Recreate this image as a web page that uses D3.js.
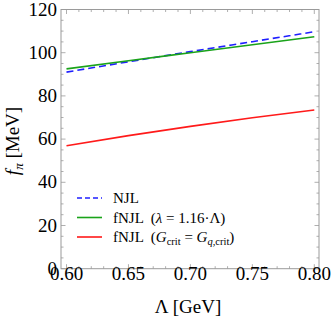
<!DOCTYPE html>
<html>
<head>
<meta charset="utf-8">
<script src="https://cdn.jsdelivr.net/npm/d3@7"></script>
<style>
  body { margin: 0; background: #fff; }
</style>
</head>
<body>
<div id="chart"></div>
<script>
// Data
const lambdaGeV = [0.60, 0.65, 0.70, 0.75, 0.80];
const njl = [91.0, 95.8, 100.5, 105.1, 109.7];
const fnjlLambda = [92.5, 96.3, 100.0, 103.7, 107.4];
const fnjlGcrit = [56.9, 61.6, 65.9, 69.9, 73.5];
const xTicks = [0.60, 0.65, 0.70, 0.75, 0.80];
const yTicks = [0, 20, 40, 60, 80, 100, 120];

const W = 332, H = 319;
const frame = {left: 61, right: 319, top: 9.5, bottom: 268.7};
const serif = "'Liberation Serif', 'DejaVu Serif', 'Times New Roman', serif";

const svg = d3.select("#chart").append("svg")
    .attr("width", W).attr("height", H)
    .attr("font-family", serif);

const x = d3.scaleLinear().domain([0.6, 0.8]).range([66.5, 314.3]);
const y = d3.scaleLinear().domain([0, 120]).range([frame.bottom, frame.top]);

// Frame
svg.append("rect")
    .attr("x", frame.left).attr("y", frame.top)
    .attr("width", frame.right - frame.left)
    .attr("height", frame.bottom - frame.top)
    .attr("fill", "none").attr("stroke", "#9a9a9a").attr("stroke-width", 1);

// Ticks (inward on all sides)
const tickColor = "#9a9a9a";
const xMinor = d3.range(0, 21).map(i => 0.6 + i * 0.01);
const yMinor = d3.range(0, 25).map(i => i * 5);
const g = svg.append("g").attr("stroke", tickColor).attr("stroke-width", 0.8);
xMinor.forEach((v, i) => {
  const len = i % 5 === 0 ? 4.5 : 2.5;
  g.append("line").attr("x1", x(v)).attr("x2", x(v))
    .attr("y1", frame.bottom).attr("y2", frame.bottom - len);
  g.append("line").attr("x1", x(v)).attr("x2", x(v))
    .attr("y1", frame.top).attr("y2", frame.top + len);
});
yMinor.forEach((v, i) => {
  const len = i % 4 === 0 ? 4.5 : 2.5;
  g.append("line").attr("y1", y(v)).attr("y2", y(v))
    .attr("x1", frame.left).attr("x2", frame.left + len);
  g.append("line").attr("y1", y(v)).attr("y2", y(v))
    .attr("x1", frame.right).attr("x2", frame.right - len);
});

// Tick labels
svg.append("g").selectAll("text").data(xTicks).join("text")
    .attr("x", d => x(d)).attr("y", 280)
    .attr("text-anchor", "middle").attr("font-size", 19)
    .text(d => d.toFixed(2));
svg.append("g").selectAll("text").data(yTicks).join("text")
    .attr("x", 57).attr("y", d => y(d) + 6)
    .attr("text-anchor", "end").attr("font-size", 19)
    .text(d => d);

// Axis titles
svg.append("text").attr("x", 188).attr("y", 313)
    .attr("text-anchor", "middle").attr("font-size", 19)
    .text("Λ [GeV]");
const yl = svg.append("text")
    .attr("transform", "translate(19,141) rotate(-90)")
    .attr("text-anchor", "middle").attr("font-size", 19);
yl.append("tspan").attr("font-style", "italic").text("f");
yl.append("tspan").attr("font-style", "italic").attr("font-size", 13).attr("dy", 4).text("π");
yl.append("tspan").attr("dy", -4).text(" [MeV]");

// Curves
const series = [
  {vals: njl, color: "#1f1fff", dash: "7,4"},
  {vals: fnjlLambda, color: "#1aa31a", dash: null},
  {vals: fnjlGcrit, color: "#ff1a1a", dash: null}
];
const line = d3.line().x(d => x(d[0])).y(d => y(d[1])).curve(d3.curveMonotoneX);
series.forEach(s => {
  svg.append("path")
    .datum(lambdaGeV.map((l, i) => [l, s.vals[i]]))
    .attr("d", line)
    .attr("fill", "none")
    .attr("stroke", s.color)
    .attr("stroke-width", 1.6)
    .attr("stroke-dasharray", s.dash);
});

// Legend
const legY = [198, 217.5, 237];
const leg = svg.append("g").attr("font-size", 15);
series.forEach((s, i) => {
  leg.append("line").attr("x1", 77).attr("x2", 102)
    .attr("y1", legY[i]).attr("y2", legY[i])
    .attr("stroke", s.color).attr("stroke-width", 1.6)
    .attr("stroke-dasharray", s.dash ? "5,3" : null);
});
leg.append("text").attr("x", 113).attr("y", legY[0] + 5).text("NJL");
const t2 = leg.append("text").attr("x", 113).attr("y", legY[1] + 5).attr("xml:space", "preserve");
t2.append("tspan").text("fNJL  (");
t2.append("tspan").attr("font-style", "italic").text("λ");
t2.append("tspan").text(" = 1.16·Λ)");
const t3 = leg.append("text").attr("x", 113).attr("y", legY[2] + 5).attr("xml:space", "preserve");
t3.append("tspan").text("fNJL  (");
t3.append("tspan").attr("font-style", "italic").text("G");
t3.append("tspan").attr("font-size", 10.5).attr("dy", 3).text("crit");
t3.append("tspan").attr("dy", -3).text(" = ");
t3.append("tspan").attr("font-style", "italic").text("G");
t3.append("tspan").attr("font-size", 10.5).attr("dy", 3).attr("font-style", "italic").text("q");
t3.append("tspan").attr("font-size", 10.5).text(",crit");
t3.append("tspan").attr("dy", -3).text(")");
</script>
</body>
</html>
